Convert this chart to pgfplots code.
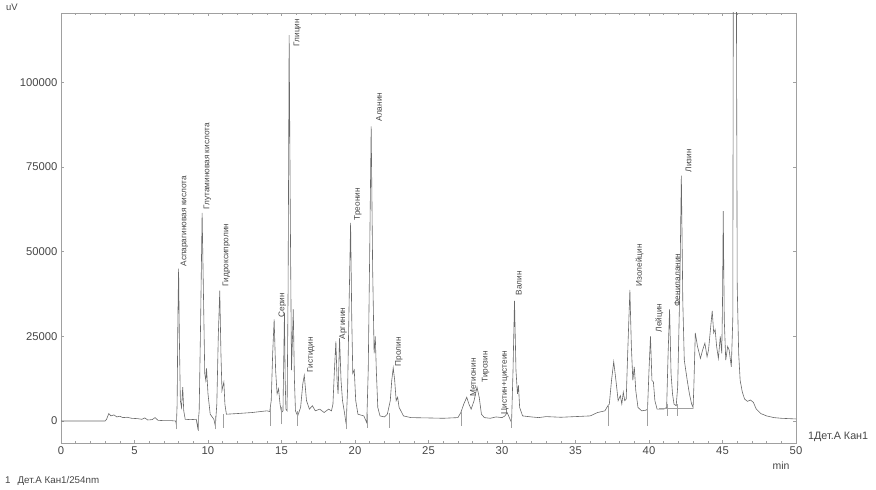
\documentclass[border=0pt]{standalone}
\usepackage{fontspec}
\setmainfont{Liberation Sans}
\usepackage{pgfplots}
\pgfplotsset{compat=1.18}
\usetikzlibrary{calc}
\definecolor{trace}{RGB}{105,105,105}
\definecolor{frame}{RGB}{160,160,160}
\definecolor{txt}{RGB}{70,70,70}

\begin{document}
\begin{tikzpicture}
\begin{axis}[
    name=ax,
    scale only axis,
    width=735bp, height=430bp,
    xmin=0, xmax=50, ymin=-6500, ymax=120500,
    xtick={0,5,10,15,20,25,30,35,40,45,50},
    xticklabels={0,5,10,15,20,25,30,35,40,45,50},
    minor x tick num=4,
    ytick={0,25000,50000,75000,100000},
    yticklabels={0,25000,50000,75000,100000},
    tick align=inside,
    major tick length=3bp, minor tick length=2bp,
    tick style={frame, line width=0.5bp},
    axis line style={frame, line width=0.6bp},
    tick label style={font=\fontsize{11.3}{13}\selectfont, text=txt},
    clip mode=individual,
]
% chromatogram trace
\addplot[trace, line width=0.6bp] coordinates {
(0,0) (3.0,0) (3.1,500) (3.25,2200) (3.4,1500) (3.6,1800) (3.8,1200) (4.0,1400)
(4.2,1000) (4.5,1100) (4.8,800) (5.2,700) (5.5,500) (5.7,900) (5.9,300) (6.2,400)
(6.4,1000) (6.6,200) (7.0,100) (7.5,100) (7.8,0)
(7.85,-1200) (7.9,5000) (7.95,30000) (8.0,45000) (8.05,25000) (8.12,6000) (8.2,4000)
(8.28,10000) (8.35,3000) (8.45,500) (8.8,400) (9.2,500) (9.3,-2000)
(9.4,3000) (9.5,30000) (9.6,61500) (9.7,35000) (9.78,14000) (9.85,12000) (9.9,15500)
(10.0,8000) (10.15,2000) (10.4,500) (10.5,-1500)
(10.6,5000) (10.7,25000) (10.8,38500) (10.88,20000) (10.95,9000) (11.0,10000)
(11.08,11500) (11.15,5000) (11.25,2000) (12,2200) (13,2500) (14.0,3000) (14.2,2800)
(14.3,6000) (14.4,20000) (14.5,30000) (14.6,15000) (14.7,8000) (14.8,9500) (14.9,5000)
(15.0,2500) (15.1,3000) (15.2,32000) (15.25,12000) (15.3,3500) (15.38,3000)
(15.45,40000) (15.52,114000) (15.6,60000) (15.68,15000) (15.75,25000) (15.8,33000)
(15.88,12000) (15.95,3000) (16.1,1500) (16.3,4000) (16.45,11000) (16.55,13500)
(16.7,6000) (16.9,3500) (17.1,4500) (17.3,3000) (17.6,3500) (17.9,2500) (18.2,3500)
(18.4,3000) (18.5,5000)
(18.6,15000) (18.7,23500) (18.78,12000) (18.85,8000) (18.95,24500) (19.05,12000)
(19.15,6000) (19.3,2000) (19.4,-1000)
(19.5,10000) (19.6,35000) (19.7,58500) (19.78,30000) (19.85,14000) (19.95,15000)
(20.05,6000) (20.2,2000) (20.6,1500) (20.8,-500)
(20.9,15000) (21.0,50000) (21.1,87000) (21.2,45000) (21.3,20000) (21.38,25000)
(21.45,15000) (21.55,4000) (21.7,1500) (22.0,1200) (22.2,2000)
(22.4,6000) (22.5,12000) (22.6,15700) (22.7,12000) (22.8,6000) (22.9,7000) (23.0,4000)
(23.3,1500) (23.8,1000) (25,900) (26,800) (27.0,1000) (27.2,2500)
(27.4,5000) (27.6,7000) (27.75,5000) (27.9,3500) (28.1,6000) (28.3,10000) (28.45,7000)
(28.6,2000) (28.8,1000) (29.2,800) (29.6,1200) (30.0,1000) (30.2,1500) (30.35,2500)
(30.5,1000) (30.65,-500)
(30.75,15000) (30.85,35500) (30.95,15000) (31.05,8000) (31.12,10500) (31.2,4000)
(31.4,1500) (32,1200) (32.5,1000) (33,1300) (34,1100) (35,1300) (36,1500) (36.5,2500)
(37.0,3000) (37.2,4500) (37.3,5000)
(37.45,12000) (37.6,17500) (37.75,12000) (37.9,6000) (38.05,7500) (38.15,5000)
(38.25,8500) (38.35,6000) (38.45,6500)
(38.55,20000) (38.7,38700) (38.8,22000) (38.9,12000) (39.0,16000) (39.1,9000)
(39.25,4000) (39.5,3000) (39.8,3200) (39.9,3500)
(40.0,15000) (40.1,25000) (40.2,12000) (40.3,11500) (40.4,6000) (40.55,3500)
(41.0,3500) (41.2,4000)
(41.3,20000) (41.4,33000) (41.5,14000) (41.6,8000) (41.7,5000) (41.85,4500) (41.95,10000)
(42.1,40000) (42.2,72500) (42.3,35000) (42.4,18000) (42.5,15000) (42.6,12000)
(42.75,8000) (42.9,5000) (43.0,4000)
(43.05,10000) (43.15,26000) (43.3,22000) (43.5,18500) (43.65,21000) (43.8,23000)
(43.95,19000) (44.05,21000) (44.2,28000) (44.3,32500) (44.4,26000) (44.5,27000)
(44.6,22000) (44.72,18500) (44.85,25000) (44.95,20000) (45.0,35000) (45.05,62000)
(45.12,30000) (45.22,18000) (45.35,22000) (45.45,21000) (45.6,16000) (45.7,30000)
(45.76,200000) (45.9,200000) (46.0,40000) (46.1,20000) (46.2,12000) (46.35,8500)
(46.5,6500) (46.7,5800) (46.9,6200) (47.1,5500) (47.3,3500) (47.6,2200) (48.0,1500)
(48.5,1000) (49,800) (50,600)
};
% integration markers and drawn baseline
\addplot[frame, line width=0.4bp, unbounded coords=jump] coordinates {
(7.85,-2500) (7.85,1500) (7.85,nan)
(9.35,-3000) (9.35,1500) (9.35,nan)
(10.5,-2500) (10.5,1500) (10.5,nan)
(11.0,-2000) (11.0,2000) (11.0,nan)
(14.25,-1500) (14.25,4000) (14.25,nan)
(15.0,-1000) (15.0,4000) (15.0,nan)
(16.1,-1500) (16.1,3000) (16.1,nan)
(19.4,-2500) (19.4,2000) (19.4,nan)
(20.8,-2000) (20.8,2000) (20.8,nan)
(22.3,-2000) (22.3,2500) (22.3,nan)
(27.2,-1500) (27.2,3000) (27.2,nan)
(30.65,-2000) (30.65,2000) (30.65,nan)
(37.2,-1500) (37.2,4500) (37.2,nan)
(39.9,-1500) (39.9,4500) (39.9,nan)
(40.7,3800) (43.0,3800) (43.0,nan)
(41.25,1500) (41.25,5000) (41.25,nan)
(41.95,1500) (41.95,5000) (41.95,nan)
};
\begin{scope}[every node/.style={rotate=90, anchor=north west, inner sep=0.4bp,
    font=\fontsize{8.3}{10}\selectfont, text=txt}]
\node at (axis cs:8.1,45500) {Аспарагиновая кислота};
\node at (axis cs:9.66,62300) {Глутаминовая кислота};
\node at (axis cs:10.95,39600) {Гидроксипролин};
\node at (axis cs:14.76,30400) {Серин};
\node at (axis cs:15.78,110500) {Глицин};
\node at (axis cs:16.7,14200) {Гистидин};
\node at (axis cs:18.9,24000) {Аргинин};
\node at (axis cs:19.9,59100) {Треонин};
\node at (axis cs:21.4,88300) {Аланин};
\node at (axis cs:22.7,16000) {Пролин};
\node at (axis cs:27.8,7100) {Метионин};
\node at (axis cs:28.6,11200) {Тирозин};
\node at (axis cs:29.9,1800) {Цистин+цистеин};
\node at (axis cs:30.9,37000) {Валин};
\node at (axis cs:39.05,39600) {Изолейцин};
\node at (axis cs:40.4,26000) {Лейцин};
\node at (axis cs:41.68,33700) {Фенилаланин};
\node at (axis cs:42.45,73300) {Лизин};
\end{scope}
\end{axis}
\begin{scope}[every node/.style={text=txt, inner sep=0pt}]
\node[anchor=west, font=\fontsize{9.5}{11}\selectfont] at ($(ax.north west)+(-55bp,6bp)$) {uV};
\node[anchor=west, font=\fontsize{10.8}{12}\selectfont] at ($(ax.south east)+(12bp,6bp)$) {1Дет.А Кан1};
\node[anchor=center, font=\fontsize{10.5}{12}\selectfont] at ($(ax.south east)+(-15bp,-23bp)$) {min};
\node[anchor=west, font=\fontsize{9.8}{11}\selectfont] at ($(ax.south west)+(-56bp,-38bp)$) {1\hspace{7bp}Дет.А Кан1/254nm};
\end{scope}
\pgfresetboundingbox
\path[use as bounding box] ($(ax.south west)+(-61bp,-47bp)$) rectangle ($(ax.north east)+(80bp,13bp)$);
\end{tikzpicture}
\end{document}
